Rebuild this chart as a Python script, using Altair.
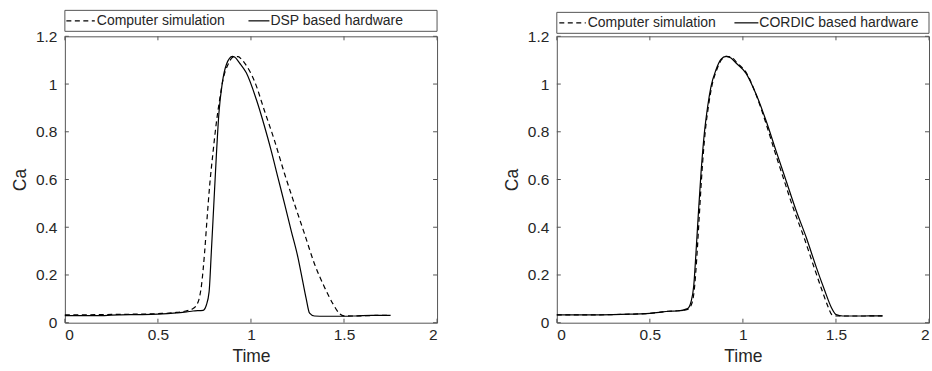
import altair as alt
import pandas as pd

# ---------------- data ----------------
# Left panel: computer simulation (dashed)
L_SIM_T = [0, 0.1, 0.2, 0.3, 0.4, 0.5, 0.6, 0.65, 0.689, 0.716, 0.734, 0.751, 0.764, 0.778,
           0.796, 0.814, 0.832, 0.85, 0.877, 0.904, 0.931, 0.95, 0.966, 1.02, 1.073, 1.127,
           1.181, 1.234, 1.288, 1.341, 1.395, 1.44, 1.476, 1.5, 1.55, 1.6, 1.65, 1.7, 1.75]
L_SIM_V = [0.033, 0.033, 0.034, 0.035, 0.036, 0.038, 0.043, 0.049, 0.059, 0.087, 0.156, 0.295,
           0.435, 0.574, 0.713, 0.838, 0.936, 1.019, 1.082, 1.113, 1.115, 1.103, 1.088, 1.01,
           0.887, 0.762, 0.623, 0.497, 0.372, 0.247, 0.149, 0.08, 0.038, 0.029, 0.028, 0.029,
           0.030, 0.031, 0.031]
# Left panel: DSP based hardware (solid)
L_HW_T = [0, 0.1, 0.2, 0.25, 0.3, 0.4, 0.5, 0.6, 0.653, 0.689, 0.743, 0.76, 0.775, 0.787, 0.80,
          0.814, 0.828, 0.846, 0.868, 0.9, 0.912, 0.939, 0.975, 1.029, 1.073, 1.109, 1.145,
          1.181, 1.216, 1.252, 1.279, 1.297, 1.315, 1.341, 1.4, 1.5, 1.55, 1.6, 1.65, 1.7, 1.75]
L_HW_V = [0.030, 0.030, 0.030, 0.032, 0.033, 0.034, 0.036, 0.041, 0.045, 0.049, 0.052, 0.073,
          0.129, 0.295, 0.49, 0.70, 0.88, 1.005, 1.082, 1.116, 1.113, 1.088, 1.047, 0.935,
          0.822, 0.72, 0.608, 0.497, 0.386, 0.275, 0.17, 0.1, 0.04, 0.028, 0.027, 0.027,
          0.028, 0.030, 0.031, 0.031, 0.031]
# Right panel: computer simulation (dashed)
R_SIM_T = [0, 0.1, 0.2, 0.3, 0.4, 0.45, 0.5, 0.55, 0.6, 0.649, 0.703, 0.723, 0.739, 0.752,
           0.765, 0.779, 0.797, 0.815, 0.833, 0.86, 0.886, 0.912, 0.94, 0.967, 1.02, 1.071,
           1.12, 1.17, 1.222, 1.275, 1.328, 1.382, 1.425, 1.458, 1.478, 1.51, 1.6, 1.65, 1.7, 1.75]
R_SIM_V = [0.033, 0.033, 0.033, 0.034, 0.036, 0.037, 0.039, 0.043, 0.048, 0.05, 0.056, 0.075,
           0.14, 0.27, 0.44, 0.62, 0.796, 0.908, 0.991, 1.061, 1.103, 1.116, 1.112, 1.09,
           1.045, 0.955, 0.845, 0.72, 0.595, 0.47, 0.358, 0.233, 0.136, 0.066, 0.034, 0.028,
           0.028, 0.028, 0.029, 0.029]
# Right panel: CORDIC based hardware (solid)
R_HW_T = [0, 0.1, 0.2, 0.3, 0.4, 0.45, 0.5, 0.55, 0.6, 0.649, 0.703, 0.721, 0.736, 0.748,
          0.761, 0.775, 0.793, 0.811, 0.829, 0.856, 0.882, 0.909, 0.936, 0.963, 1.017, 1.071,
          1.125, 1.178, 1.232, 1.286, 1.34, 1.394, 1.439, 1.474, 1.501, 1.537, 1.6, 1.65, 1.7, 1.75]
R_HW_V = [0.033, 0.033, 0.033, 0.034, 0.036, 0.037, 0.039, 0.043, 0.048, 0.049, 0.059, 0.087,
          0.156, 0.295, 0.462, 0.629, 0.796, 0.908, 0.991, 1.061, 1.103, 1.116, 1.109, 1.088,
          1.045, 0.957, 0.845, 0.72, 0.595, 0.47, 0.358, 0.233, 0.136, 0.066, 0.034, 0.028,
          0.028, 0.028, 0.029, 0.029]

X_TICKS = [0, 0.5, 1, 1.5, 2]
Y_TICKS = [0, 0.2, 0.4, 0.6, 0.8, 1, 1.2]
SIM_LABEL = "Computer simulation"
L_HW_LABEL = "DSP based hardware"
R_HW_LABEL = "CORDIC based hardware"
X_TITLE = "Time"
Y_TITLE = "Ca"

# ---------------- style ----------------
W, H = 373, 287
FONT = "Liberation Sans"
TXT = "#262626"
AX = "#555555"
DASH = [5, 3.5]
LW = 1.2
TICK = 4

xscale = alt.Scale(domain=[0, 2], nice=False, zero=False)
yscale = alt.Scale(domain=[0, 1.2], nice=False, zero=False)
xaxis = alt.Axis(values=X_TICKS, format="~g", title=X_TITLE, ticks=False, tickSize=0,
                 domain=False, grid=False, labelPadding=5, titlePadding=4)
yaxis = alt.Axis(values=Y_TICKS, format="~g", title=Y_TITLE, ticks=False, tickSize=0,
                 domain=False, grid=False, labelPadding=8, titlePadding=6)


def X(field):
    return alt.X(field, scale=xscale, axis=xaxis)


def Y(field):
    return alt.Y(field, scale=yscale, axis=yaxis)


def one():
    return alt.Chart(pd.DataFrame({"k": [0]}))


def panel(sim_t, sim_v, hw_t, hw_v, hw_label, leg):
    sim = alt.Chart(pd.DataFrame({"t": sim_t, "v": sim_v})).mark_line(
        color="black", strokeWidth=LW, strokeDash=DASH, interpolate="monotone").encode(
        x=X("t:Q"), y=Y("v:Q"))
    hw = alt.Chart(pd.DataFrame({"t": hw_t, "v": hw_v})).mark_line(
        color="black", strokeWidth=LW, interpolate="monotone").encode(x=X("t:Q"), y=Y("v:Q"))
    xt = alt.Chart(pd.DataFrame({"t": X_TICKS}))
    yt = alt.Chart(pd.DataFrame({"v": Y_TICKS}))
    tick_b = xt.mark_rule(color=AX).encode(x=X("t:Q"), y=alt.value(H), y2=alt.value(H - TICK))
    tick_t = xt.mark_rule(color=AX).encode(x=X("t:Q"), y=alt.value(0), y2=alt.value(TICK))
    tick_l = yt.mark_rule(color=AX).encode(y=Y("v:Q"), x=alt.value(0), x2=alt.value(TICK))
    tick_r = yt.mark_rule(color=AX).encode(y=Y("v:Q"), x=alt.value(W), x2=alt.value(W - TICK))
    top, bot = leg["y0"], leg["y1"]
    mid = (top + bot) / 2
    box = one().mark_rect(fill="white", stroke=AX, strokeWidth=1).encode(
        x=alt.value(0), x2=alt.value(W), y=alt.value(top), y2=alt.value(bot))
    sym1 = one().mark_rule(color="black", strokeWidth=LW, strokeDash=DASH).encode(
        x=alt.value(leg["s1"][0]), x2=alt.value(leg["s1"][1]), y=alt.value(mid))
    sym2 = one().mark_rule(color="black", strokeWidth=LW).encode(
        x=alt.value(leg["s2"][0]), x2=alt.value(leg["s2"][1]), y=alt.value(mid))
    txt1 = one().mark_text(text=SIM_LABEL, align="left", baseline="middle", font=FONT,
                           fontSize=14, color=TXT).encode(x=alt.value(leg["t1"]), y=alt.value(mid))
    txt2 = one().mark_text(text=hw_label, align="left", baseline="middle", font=FONT,
                           fontSize=14, color=TXT).encode(x=alt.value(leg["t2"]), y=alt.value(mid))
    return alt.layer(sim, hw, tick_b, tick_t, tick_l, tick_r, box, sym1, sym2, txt1, txt2).properties(
        width=W, height=H)


left = panel(L_SIM_T, L_SIM_V, L_HW_T, L_HW_V, L_HW_LABEL,
             {"y0": -26, "y1": -5, "s1": (1.5, 30), "t1": 32, "s2": (184, 205), "t2": 206})
right = panel(R_SIM_T, R_SIM_V, R_HW_T, R_HW_V, R_HW_LABEL,
              {"y0": -24, "y1": -3, "s1": (2.5, 29), "t1": 31, "s2": (178, 202), "t2": 203})

chart = alt.hconcat(left, right, spacing=64).configure(
    padding={"left": 10, "top": 9, "right": 2, "bottom": 2},
    background="white",
).configure_view(stroke=AX, strokeWidth=1).configure_axis(
    labelFont=FONT, labelFontSize=15.5, labelColor=TXT,
    titleFont=FONT, titleFontSize=17.5, titleFontWeight="normal", titleColor=TXT,
)

chart.save("out.html", embed_options={"renderer": "svg", "actions": False})
